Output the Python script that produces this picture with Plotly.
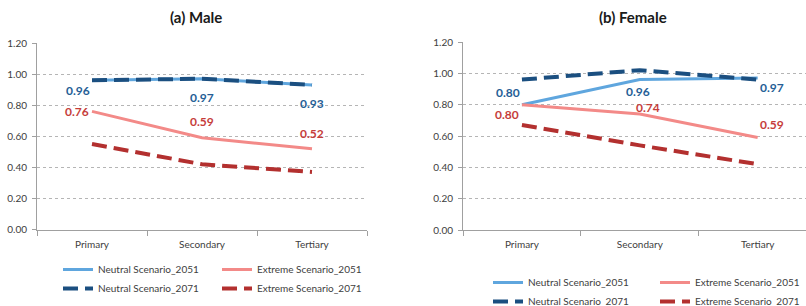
import plotly.graph_objects as go

categories = ["Primary", "Secondary", "Tertiary"]
series_names = ["Neutral Scenario_2051", "Extreme Scenario_2051",
                "Neutral Scenario_2071", "Extreme Scenario_2071"]

male_neutral_2051 = [0.96, 0.97, 0.93]
male_extreme_2051 = [0.76, 0.59, 0.52]
male_neutral_2071 = [0.96, 0.97, 0.93]
male_extreme_2071 = [0.55, 0.42, 0.37]

female_neutral_2051 = [0.80, 0.96, 0.97]
female_extreme_2051 = [0.80, 0.74, 0.59]
female_neutral_2071 = [0.96, 1.02, 0.96]
female_extreme_2071 = [0.67, 0.54, 0.42]

y_ticks = [0.0, 0.2, 0.4, 0.6, 0.8, 1.0, 1.2]
panel_titles = ["(a) Male", "(b) Female"]

# styles
C_LBLUE = "#5fa6de"
C_NAVY = "#1b4f80"
C_PINK = "#f38a88"
C_DRED = "#b3302f"
C_LAB_BLUE = "#255e96"
C_LAB_RED = "#c63d3a"
FONT = "Lato"
DASH = "15px,7px"

W, H = 806, 306

styles = [
    dict(color=C_LBLUE, width=3, dash="solid"),
    dict(color=C_PINK, width=3, dash="solid"),
    dict(color=C_NAVY, width=4, dash=DASH),
    dict(color=C_DRED, width=4, dash=DASH),
]

fig = go.Figure()

panels = [
    dict(data=[male_neutral_2051, male_extreme_2051, male_neutral_2071, male_extreme_2071],
         xa="x", ya="y", legends=["legend", "legend2", "legend", "legend2"]),
    dict(data=[female_neutral_2051, female_extreme_2051, female_neutral_2071, female_extreme_2071],
         xa="x2", ya="y2", legends=["legend3", "legend4", "legend3", "legend4"]),
]

for p in panels:
    for i, vals in enumerate(p["data"]):
        fig.add_trace(go.Scatter(
            x=categories, y=vals, mode="lines", name=series_names[i],
            line=styles[i], xaxis=p["xa"], yaxis=p["ya"],
            legend=p["legends"][i], hoverinfo="skip"))

# data labels (2051 series), offsets in px
label_sets = [
    ("x", "y", male_neutral_2051, C_LAB_BLUE, [(-14, -10), (0, -19), (0, -19)]),
    ("x", "y", male_extreme_2051, C_LAB_RED, [(-15, 0), (0, 16), (0, 15)]),
    ("x2", "y2", female_neutral_2051, C_LAB_BLUE, [(-14, 12), (-2, -12), (14, -9)]),
    ("x2", "y2", female_extreme_2051, C_LAB_RED, [(-15, -10), (8, 7), (14, 13)]),
]
for xa, ya, vals, col, offs in label_sets:
    for c, v, (dx, dy) in zip(categories, vals, offs):
        fig.add_annotation(x=c, y=v, xref=xa, yref=ya, text=f"{v:.2f}",
                           showarrow=False, xshift=dx, yshift=dy,
                           font=dict(family=FONT, size=12, color=col, weight="bold"))

# titles
for t, xc in zip(panel_titles, [196, 633]):
    fig.add_annotation(x=xc / W, y=1 - 17 / H, xref="paper", yref="paper", text=t,
                       showarrow=False, xanchor="center", yanchor="middle",
                       font=dict(family=FONT, size=15, color="#1a1a1a", weight="bold"))

axis_common = dict(showline=True, linecolor="#a0a0a0", linewidth=1, automargin=False,
                   tickfont=dict(family=FONT, size=10, color="#404040"))

fig.update_layout(
    width=W, height=H, margin=dict(l=0, r=0, t=0, b=0, autoexpand=False),
    paper_bgcolor="white", plot_bgcolor="white", showlegend=True,
    xaxis=dict(domain=[37 / W, 367 / W], type="category", range=[-0.5, 2.5],
               ticks="outside", tickson="boundaries", ticklen=5, tickcolor="#a0a0a0",
               showgrid=False, anchor="y", ticklabelstandoff=5, **axis_common),
    yaxis=dict(domain=[(H - 229.5) / H, (H - 43) / H], range=[0, 1.2], tickvals=y_ticks,
               tickformat=".2f", showgrid=True, gridcolor="#b5b5b5", griddash="3px,3px",
               zeroline=False, ticks="outside", ticklen=4, tickcolor="#a0a0a0",
               anchor="x", ticklabelstandoff=3, **axis_common),
    xaxis2=dict(domain=[463 / W, 1.0], type="category", range=[-0.5, 2.41],
                ticks="outside", tickson="boundaries", ticklen=5, tickcolor="#a0a0a0",
                showgrid=False, anchor="y2", ticklabelstandoff=5, **axis_common),
    yaxis2=dict(domain=[(H - 230) / H, (H - 42) / H], range=[0, 1.2], tickvals=y_ticks,
                tickformat=".2f", showgrid=True, gridcolor="#b5b5b5", griddash="3px,3px",
                zeroline=False, ticks="outside", ticklen=4, tickcolor="#a0a0a0",
                anchor="x2", ticklabelstandoff=3, **axis_common),
)

leg_common = dict(orientation="v", xanchor="left", yanchor="top", bgcolor="rgba(0,0,0,0)",
                  borderwidth=0, font=dict(family=FONT, size=10, color="#404040"),
                  itemwidth=30, tracegroupgap=0, itemclick=False, itemdoubleclick=False)
fig.update_layout(
    legend=dict(x=58 / W, y=1 - 255 / H, **leg_common),
    legend2=dict(x=217 / W, y=1 - 255 / H, **leg_common),
    legend3=dict(x=488 / W, y=1 - 268 / H, **leg_common),
    legend4=dict(x=655 / W, y=1 - 268 / H, **leg_common),
)

fig.write_html("out.html",
               config={"displayModeBar": False},
               post_script="document.body.style.margin='0';document.body.style.overflow='hidden';")
